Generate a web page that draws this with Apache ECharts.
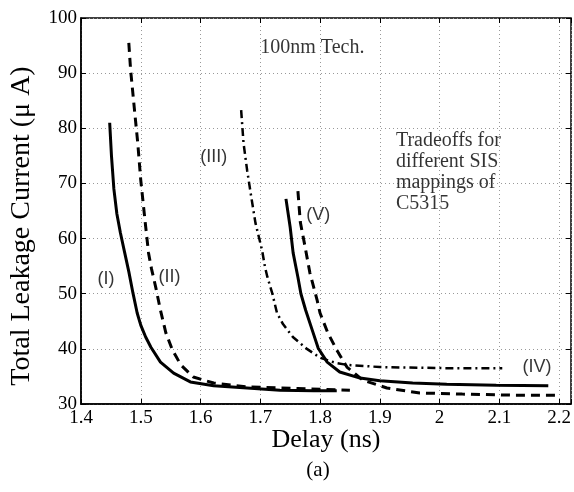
<!DOCTYPE html>
<html>
<head>
<meta charset="utf-8">
<script src="https://cdn.jsdelivr.net/npm/echarts@6/dist/echarts.min.js"></script>
<style>
  html, body { margin: 0; padding: 0; background: #fff; }
  #chart { width: 574px; height: 492px; }
</style>
</head>
<body>
<div id="chart"></div>
<script>
// x ticks / y ticks
var xTicks = [1.4, 1.5, 1.6, 1.7, 1.8, 1.9, 2.0, 2.1, 2.2]
var yTicks = [30, 40, 50, 60, 70, 80, 90, 100]

// (I) solid, left
var curveI = [
  [1.448, 81.0], [1.451, 75.0], [1.455, 69.0], [1.460, 64.5], [1.466, 61.0],
  [1.473, 57.5], [1.480, 54.0], [1.487, 50.1], [1.494, 46.5], [1.500, 44.3],
  [1.508, 42.2], [1.517, 40.3], [1.533, 37.6], [1.555, 35.6], [1.583, 34.0],
  [1.622, 33.3], [1.678, 32.9], [1.733, 32.5], [1.790, 32.4], [1.828, 32.4]
]
// (II) dashed, left
var curveII = [
  [1.480, 95.5], [1.483, 90.6], [1.489, 83.9], [1.495, 77.3], [1.500, 70.6],
  [1.507, 63.4], [1.513, 57.4], [1.518, 54.5], [1.525, 51.2], [1.533, 47.0],
  [1.542, 42.9], [1.553, 39.8], [1.567, 37.1], [1.588, 34.9], [1.622, 33.8],
  [1.678, 33.1], [1.762, 32.8], [1.850, 32.5]
]
// (III)/(IV) dash-dot
var curveIII = [
  [1.668, 83.3], [1.672, 77.3], [1.678, 72.4], [1.685, 67.5], [1.692, 62.8],
  [1.703, 57.9], [1.708, 54.8], [1.712, 53.0], [1.720, 50.1], [1.728, 46.5],
  [1.738, 44.5], [1.755, 42.1], [1.778, 40.0], [1.800, 38.4], [1.828, 37.4],
  [1.845, 37.1], [1.900, 36.7], [2.012, 36.5], [2.105, 36.5]
]
// (V) solid, right
var curveVs = [
  [1.743, 67.2], [1.750, 62.1], [1.755, 57.4], [1.763, 53.0], [1.768, 50.0],
  [1.776, 47.0], [1.787, 43.4], [1.797, 40.1], [1.812, 37.6], [1.833, 35.8],
  [1.867, 34.7], [1.900, 34.2], [1.955, 33.8], [2.012, 33.6], [2.095, 33.4],
  [2.182, 33.3]
]
// (V) dashed, right
var curveVd = [
  [1.763, 68.6], [1.767, 63.0], [1.775, 58.5], [1.783, 53.8], [1.795, 48.9],
  [1.800, 46.5], [1.813, 42.9], [1.828, 39.8], [1.845, 36.7], [1.872, 34.3],
  [1.912, 32.9], [1.967, 32.0], [2.038, 31.8], [2.122, 31.6], [2.200, 31.6]
]

// text notes placed on data coords
var sansNotes = [
  { at: [1.442, 52.7], text: '(I)' },
  { at: [1.548, 53.0], text: '(II)' },
  { at: [1.622, 74.8], text: '(III)' },
  { at: [1.797, 64.3], text: '(V)' },
  { at: [2.163, 36.7], text: '(IV)' }
]
var serifNotes = [
  { at: [1.700, 94.6], text: '100nm Tech.' },
  { at: [1.927, 72.0], text: 'Tradeoffs for\ndifferent SIS\nmappings of\nC5315' }
]

var serif = '"Liberation Serif", "DejaVu Serif", serif'
var sans = '"Liberation Sans", Arial, sans-serif'

function lineSeries(data, type, width) {
  return {
    type: 'line', data: data, showSymbol: false, smooth: false,
    animation: false, silent: true,
    lineStyle: { color: '#000', width: width, type: type }
  }
}

function noteSeries(notes, font, size, align) {
  return {
    type: 'scatter', symbolSize: 0, animation: false, silent: true,
    data: notes.map(function (n) { return { value: n.at, label: { formatter: n.text } } }),
    label: {
      show: true, position: 'inside', color: '#000',
      fontFamily: font, fontSize: size,
      align: align, lineHeight: 21
    }
  }
}

var fmt = function (v) {
  var r = Math.round(v * 10) / 10
  if (Math.abs(v - r) > 1e-6) return ''
  return xTicks.indexOf(r) >= 0 ? String(r) : ''
}

var chart = echarts.init(document.getElementById('chart'))
chart.setOption({
  backgroundColor: '#fff',
  grid: { left: 81, right: 3, top: 18, bottom: 88, show: true, borderColor: '#000', borderWidth: 1.5 },
  xAxis: [{
    type: 'value', min: 1.4, max: 2.22, interval: 0.1,
    axisLine: { show: true, lineStyle: { color: '#000', width: 1.5 } },
    axisTick: { show: true, inside: true, length: 5, lineStyle: { color: '#000' } },
    axisLabel: { formatter: fmt, fontFamily: serif, fontSize: 19, color: '#000', margin: 5 },
    splitLine: { show: true, lineStyle: { color: '#999', type: [1, 3], width: 1 } }
  }, {
    type: 'value', position: 'top', min: 1.4, max: 2.22, interval: 0.1,
    axisLine: { show: false },
    axisTick: { show: true, inside: true, length: 5, lineStyle: { color: '#000' } },
    axisLabel: { show: false }, splitLine: { show: false }
  }],
  yAxis: [{
    type: 'value', min: 30, max: 100, interval: 10,
    axisLine: { show: true, lineStyle: { color: '#000', width: 1.5 } },
    axisTick: { show: true, inside: true, length: 5, lineStyle: { color: '#000' } },
    axisLabel: { fontFamily: serif, fontSize: 19, color: '#000', margin: 4 },
    splitLine: { show: true, lineStyle: { color: '#999', type: [1, 3], width: 1 } }
  }, {
    type: 'value', position: 'right', min: 30, max: 100, interval: 10,
    axisLine: { show: false },
    axisTick: { show: true, inside: true, length: 5, lineStyle: { color: '#000' } },
    axisLabel: { show: false }, splitLine: { show: false }
  }],
  graphic: [{
    type: 'text', x: 22, y: 226, rotation: Math.PI / 2,
    style: {
      text: 'Total Leakage Current (μ A)', font: '28px ' + serif, fill: '#000',
      textAlign: 'center', textVerticalAlign: 'middle'
    }
  }, {
    type: 'text', x: 326, y: 440,
    style: { text: 'Delay (ns)', font: '26px ' + serif, fill: '#000', textAlign: 'center', textVerticalAlign: 'middle' }
  }, {
    type: 'text', x: 318, y: 470,
    style: { text: '(a)', font: '21px ' + serif, fill: '#000', textAlign: 'center', textVerticalAlign: 'middle' }
  }],
  series: [
    lineSeries(curveI, 'solid', 3),
    lineSeries(curveII, [9, 6], 3),
    lineSeries(curveIII, [8, 4, 2, 4], 2.5),
    lineSeries(curveVs, 'solid', 3),
    lineSeries(curveVd, [9, 6], 3),
    noteSeries(sansNotes, sans, 18, 'center'),
    noteSeries(serifNotes, serif, 20, 'left')
  ]
})
</script>
</body>
</html>
